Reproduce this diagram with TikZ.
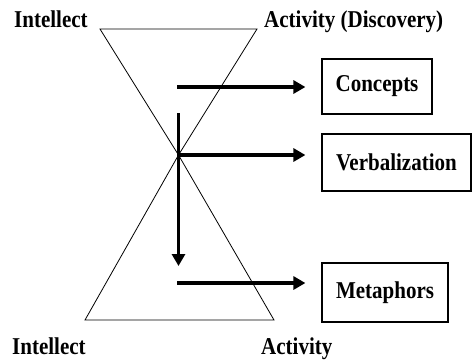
\documentclass[tikz,border=0pt]{standalone}
\usepackage{fontspec}
\setmainfont{Liberation Serif}
\usepackage{graphicx}
\usetikzlibrary{arrows.meta}
\newcommand{\tallt}[1]{\scalebox{1}[1.15]{#1}}
\begin{document}
\begin{tikzpicture}[x=1pt,y=-1pt,
  lbl/.style={inner sep=0pt, font=\fontsize{21}{25}\selectfont\bfseries},
  boxnode/.style={draw, line width=1.2pt, inner sep=0pt, font=\fontsize{21}{25}\selectfont\bfseries},
  thin/.style={line width=0.8pt},
  bigarrow/.style={line width=3.4pt, -{Triangle[length=12pt,width=13pt]}}
]
\useasboundingbox (0,0) rectangle (473,360);
% hourglass
\coordinate (tl) at (100,29);
\coordinate (tr) at (257,29);
\coordinate (apex) at (178.5,155);
\coordinate (bl) at (85,320);
\coordinate (br) at (274,320);
\draw[thin] (tl) -- (tr) -- (apex) -- cycle;
\draw[thin] (apex) -- (bl) -- (br) -- cycle;
% labels
\node[lbl, anchor=base west] (intTop) at (14,27) {\tallt{Intellect}};
\node[lbl, anchor=base west] (actTop) at (264,27) {\tallt{Activity (Discovery)}};
\node[lbl, anchor=base west] (intBot) at (12,354) {\tallt{Intellect}};
\node[lbl, anchor=base west] (actBot) at (261,354) {\tallt{Activity}};
% boxes
\node[boxnode, minimum width=110pt, minimum height=55pt] (concepts) at (377,86.5) {\tallt{Concepts}};
\node[boxnode, minimum width=149pt, minimum height=57pt] (verb) at (396.5,162.5) {\tallt{Verbalization}};
\node[boxnode, minimum width=126pt, minimum height=59pt] (meta) at (385,292.5) {\tallt{Metaphors}};
% arrows
\coordinate (a1) at (177,87);
\coordinate (a2) at (178.5,155);
\coordinate (a3) at (177,283);
\coordinate (vs) at (178.5,113);
\coordinate (ve) at (178.5,266);
\draw[bigarrow, shorten >=16pt] (a1) -- (a1 -| concepts.west);
\draw[bigarrow, shorten >=16pt] (a2) -- (a2 -| verb.west);
\draw[bigarrow, shorten >=16pt] (a3) -- (a3 -| meta.west);
\draw[bigarrow] (vs) -- (ve);
\end{tikzpicture}
\end{document}
